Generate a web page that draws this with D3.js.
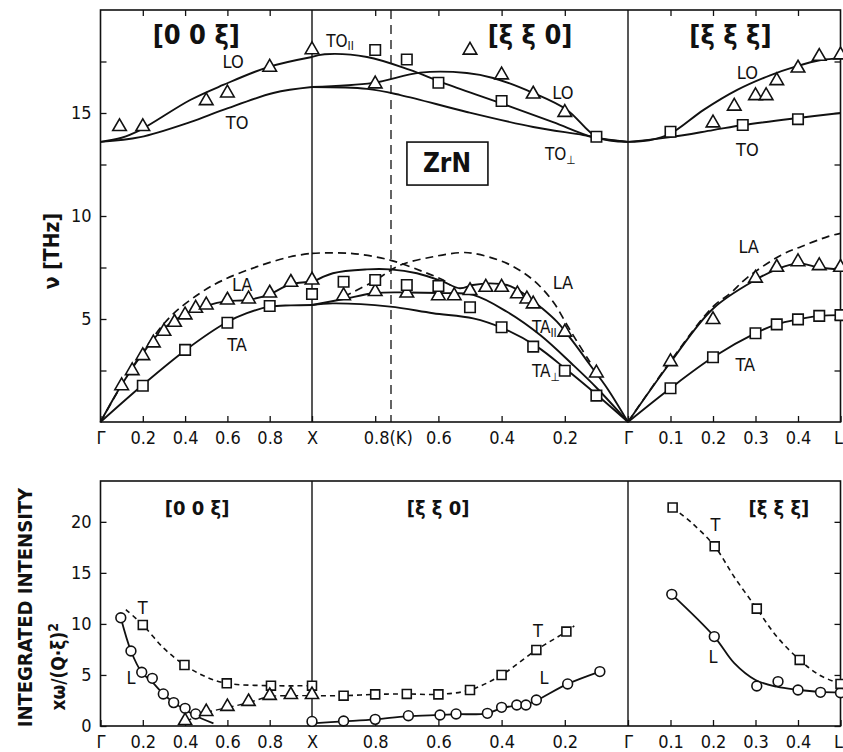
<!DOCTYPE html>
<html>
<head>
<meta charset="utf-8">
<script src="https://cdn.jsdelivr.net/npm/d3@7"></script>
<style>
  body { margin: 0; background: #fff; }
  svg text { fill: #111; }
</style>
</head>
<body>
<div id="chart"></div>
<script>
// ---------- data: phonon dispersion of ZrN, [xi, nu (THz)] ----------
// segment a = [0 0 xi] (Gamma -> X), b = [xi xi 0] (X -> Gamma), c = [xi xi xi] (Gamma -> L)

// optical branches (lines)
const loA = [[0, 13.6], [0.1, 13.8], [0.187, 14.17], [0.424, 15.63], [0.58, 16.36], [0.793, 17.23], [1, 17.72]];
const toA = [[0, 13.6], [0.187, 13.83], [0.424, 14.56], [0.58, 15.15], [0.817, 15.97], [1, 16.26]];
const toParB = [[1, 17.72], [0.96, 17.85], [0.826, 17.72], [0.69, 17.09], [0.585, 16.46], [0.405, 15.49], [0.237, 14.56], [0.11, 13.83], [0, 13.6]];
const loB = [[1, 16.26], [0.807, 16.46], [0.658, 16.96], [0.51, 16.94], [0.427, 16.7], [0.3, 15.97], [0.193, 15.15], [0.098, 13.83], [0, 13.6]];
const toPerpB = [[1, 16.26], [0.826, 16.17], [0.72, 15.87], [0.51, 15.05], [0.3, 14.32], [0.142, 13.93], [0.098, 13.79], [0, 13.6]];
const loC = [[0, 13.6], [0.05, 13.68], [0.1, 14.0], [0.178, 15.15], [0.257, 16.12], [0.336, 16.84], [0.394, 17.25], [0.454, 17.57], [0.5, 17.65]];
const toC = [[0, 13.6], [0.1, 13.83], [0.2, 14.17], [0.272, 14.42], [0.4, 14.76], [0.5, 15.0]];

// acoustic branches (lines)
const laA = [[0, 0], [0.095, 1.72], [0.189, 3.18], [0.284, 4.39], [0.394, 5.2], [0.503, 5.65], [0.597, 5.87], [0.692, 5.92], [0.793, 6.17], [0.897, 6.68], [1, 6.81]];
const taA = [[0, 0], [0.195, 1.76], [0.403, 3.5], [0.593, 4.82], [0.692, 5.28], [0.8, 5.6], [0.9, 5.66], [1, 5.68]];
const laCalcA = [[0, 0], [0.1, 1.8], [0.2, 3.4], [0.33, 5.11], [0.47, 6.25], [0.58, 6.89], [0.74, 7.54], [0.897, 8.02], [1, 8.19]];
const laB = [[1, 6.77], [0.934, 7.22], [0.826, 7.41], [0.753, 7.41], [0.668, 7.22], [0.585, 6.81], [0.532, 6.49], [0.491, 6.65], [0.437, 6.73], [0.383, 6.65], [0.332, 6.25], [0.278, 5.6], [0.225, 4.87], [0.174, 3.9], [0.12, 2.77], [0.066, 1.64], [0, 0]];
const taParB = [[1, 5.68], [0.9, 5.97], [0.8, 6.26], [0.7, 6.29], [0.595, 6.26], [0.49, 6.17], [0.383, 5.35], [0.278, 4.22], [0.174, 2.77], [0.098, 1.64], [0, 0]];
const taPerpB = [[1, 5.68], [0.934, 5.76], [0.753, 5.6], [0.617, 5.28], [0.49, 5.03], [0.396, 4.55], [0.288, 3.66], [0.193, 2.52], [0.098, 1.31], [0, 0]];
const laCalcB1 = [[1, 8.19], [0.88, 8.19], [0.753, 7.86], [0.649, 7.3], [0.585, 6.89], [0.563, 6.65]];
const laCalcB2 = [[0.9, 6.08], [0.807, 6.81], [0.72, 7.62], [0.617, 8.02], [0.532, 8.22], [0.49, 8.19], [0.383, 7.7], [0.3, 6.89], [0.237, 5.84], [0.193, 4.71], [0.161, 3.9], [0.12, 2.9]];
const laC = [[0, 0], [0.1, 2.9], [0.2, 5.5], [0.3, 6.9], [0.35, 7.41], [0.4, 7.7], [0.45, 7.5], [0.5, 7.4]];
const laCalcC = [[0, 0], [0.1, 2.95], [0.2, 5.6], [0.241, 6.25], [0.28, 7.0], [0.36, 8.1], [0.407, 8.51], [0.47, 9.0], [0.5, 9.16]];
const taC = [[0, 0], [0.1, 1.64], [0.2, 3.14], [0.3, 4.31], [0.35, 4.74], [0.4, 4.98], [0.45, 5.15], [0.5, 5.19]];

// measured points
const triA = [[0.09, 14.29], [0.2, 14.29], [0.5, 15.55], [0.6, 15.92], [0.8, 17.17], [1, 18.02],
  [0.1, 1.71], [0.15, 2.44], [0.2, 3.17], [0.25, 3.79], [0.3, 4.35], [0.35, 4.79], [0.4, 5.15], [0.45, 5.47],
  [0.5, 5.63], [0.6, 5.87], [0.7, 5.92], [0.8, 6.21], [0.9, 6.73], [1, 6.84]];
const sqA = [[0.2, 1.76], [0.4, 3.5], [0.6, 4.82], [0.8, 5.63], [1, 6.21]];
const triB = [[0.8, 16.36], [0.5, 18.0], [0.4, 16.8], [0.3, 15.87], [0.2, 14.98],
  [0.9, 6.08], [0.8, 6.28], [0.7, 6.21], [0.6, 6.08], [0.55, 6.08], [0.5, 6.33], [0.45, 6.49], [0.4, 6.49],
  [0.35, 6.17], [0.32, 5.92], [0.3, 5.68], [0.2, 4.31], [0.1, 2.33]];
const sqB = [[0.8, 18.06], [0.7, 17.6], [0.6, 16.47], [0.4, 15.58], [0.1, 13.85],
  [0.9, 6.81], [0.8, 6.89], [0.7, 6.65], [0.6, 6.6], [0.5, 5.57], [0.4, 4.6], [0.3, 3.66], [0.2, 2.49], [0.1, 1.28]];
const triC = [[0.2, 14.47], [0.25, 15.28], [0.3, 15.79], [0.325, 15.79], [0.35, 16.52], [0.4, 17.13], [0.45, 17.7], [0.5, 17.77],
  [0.1, 2.88], [0.2, 4.92], [0.3, 6.93], [0.35, 7.46], [0.4, 7.73], [0.45, 7.54], [0.5, 7.46]];
const sqC = [[0.1, 14.09], [0.27, 14.42], [0.4, 14.7],
  [0.1, 1.64], [0.2, 3.14], [0.3, 4.31], [0.35, 4.74], [0.4, 4.98], [0.45, 5.15], [0.5, 5.19]];

// ---------- data: integrated intensity ----------
const intLA = [[0.096, 10.6], [0.144, 7.35], [0.195, 5.26], [0.245, 4.3], [0.297, 3.14], [0.346, 2.29], [0.4, 1.6], [0.45, 1.0], [0.534, 0.25]];
const intTA = [[0.12, 11.4], [0.2, 9.9], [0.3, 7.6], [0.397, 5.98], [0.5, 4.8], [0.597, 4.18], [0.806, 3.95], [1, 3.95]];
const intMixA = [[0.4, 0.42], [0.5, 1.31], [0.6, 1.8], [0.7, 2.29], [0.8, 2.88], [0.9, 2.97], [1, 2.97]];
const circA = [[0.096, 10.6], [0.144, 7.35], [0.195, 5.26], [0.245, 4.67], [0.297, 3.14], [0.346, 2.29], [0.4, 1.73], [0.45, 1.18], [1, 0.45]];
const boxA = [[0.2, 9.9], [0.397, 5.98], [0.597, 4.18], [0.806, 3.95], [1, 3.95]];
const deltaA = [[0.4, 0.42], [0.5, 1.31], [0.6, 1.8], [0.7, 2.29], [0.8, 2.88], [0.9, 2.97], [1, 2.97]];

const intLB = [[1, 0.26], [0.9, 0.45], [0.8, 0.65], [0.7, 0.95], [0.6, 1.08], [0.544, 1.15], [0.445, 1.24], [0.4, 1.75], [0.352, 2.0], [0.323, 2.1], [0.29, 2.5], [0.191, 4.12], [0.089, 5.33]];
const intTB = [[1, 2.97], [0.9, 2.97], [0.8, 3.1], [0.7, 3.14], [0.6, 3.1], [0.5, 3.53], [0.4, 5.0], [0.29, 7.45], [0.195, 9.25], [0.17, 9.8]];
const circB = [[0.9, 0.49], [0.8, 0.65], [0.695, 1.01], [0.595, 1.08], [0.544, 1.18], [0.445, 1.24], [0.4, 1.83], [0.352, 2.06], [0.323, 2.06], [0.29, 2.55], [0.191, 4.12], [0.089, 5.33]];
const boxB = [[0.9, 2.97], [0.8, 3.1], [0.7, 3.14], [0.6, 3.1], [0.5, 3.53], [0.4, 5.0], [0.29, 7.45], [0.195, 9.25]];

const intTC = [[0.105, 21.4], [0.15, 19.9], [0.204, 17.6], [0.25, 14.6], [0.303, 11.5], [0.35, 8.76], [0.404, 6.47], [0.45, 5.0], [0.5, 4.12]];
const intLC = [[0.103, 12.9], [0.203, 8.76], [0.25, 6.15], [0.3, 4.5], [0.35, 3.85], [0.4, 3.55], [0.45, 3.35], [0.5, 3.3]];
const boxC = [[0.105, 21.4], [0.204, 17.6], [0.303, 11.5], [0.404, 6.47], [0.5, 4.12]];
const circC = [[0.103, 12.9], [0.203, 8.76], [0.303, 3.92], [0.353, 4.35], [0.4, 3.53], [0.453, 3.3], [0.5, 3.26]];

// ---------- ticks ----------
const ticksA = [0, 0.2, 0.4, 0.6, 0.8, 1];
const tickLabelsA = ["Γ", "0.2", "0.4", "0.6", "0.8", "X"];
const ticksB = [0.8, 0.6, 0.4, 0.2, 0];
const tickLabelsBTop = ["0.8(K)", "0.6", "0.4", "0.2", "Γ"];
const tickLabelsBBot = ["0.8", "0.6", "0.4", "0.2", "Γ"];
const ticksC = [0.1, 0.2, 0.3, 0.4, 0.5];
const tickLabelsC = ["0.1", "0.2", "0.3", "0.4", "L"];
const nuTicks = [2.5, 5, 7.5, 10, 12.5, 15, 17.5];
const nuLabels = [5, 10, 15];
const intTicks = [0, 5, 10, 15, 20];

// ---------- layout ----------
const W = 843, H = 752;
const FONT = '"Liberation Sans Narrow", "DejaVu Sans Condensed", "Liberation Sans", sans-serif';

const svg = d3.select("#chart").append("svg").attr("width", W).attr("height", H);

const xs = {
  a: d3.scaleLinear().domain([0, 1]).range([100.5, 312]),
  b: d3.scaleLinear().domain([1, 0]).range([312, 628]),
  c: d3.scaleLinear().domain([0, 0.5]).range([628, 840.5]),
};
const yTop = d3.scaleLinear().domain([0, 20]).range([422, 10]);
const yBot = d3.scaleLinear().domain([0, 24]).range([726, 481]);

const left = xs.a.range()[0], right = xs.c.range()[1];

function frame(y) {
  const g = svg.append("g");
  g.append("rect")
    .attr("x", left).attr("y", y.range()[1])
    .attr("width", right - left).attr("height", y.range()[0] - y.range()[1])
    .attr("fill", "none").attr("stroke", "#111").attr("stroke-width", 1.6);
  // vertical lines at X and Gamma
  [xs.a(1), xs.b(0)].forEach(x => {
    g.append("line").attr("x1", x).attr("x2", x)
      .attr("y1", y.range()[1]).attr("y2", y.range()[0])
      .attr("stroke", "#111").attr("stroke-width", 1.4);
  });
  return g;
}

function styleAxis(g, size) {
  g.select(".domain").remove();
  g.attr("font-family", FONT).attr("font-size", size);
  g.selectAll("line").attr("stroke", "#111").attr("stroke-width", 1.3);
  g.selectAll("text").attr("fill", "#111");
}

function xAxes(y, labelsB, withTop) {
  const base = y.range()[0];
  const segs = [["a", ticksA, tickLabelsA], ["b", ticksB, labelsB], ["c", ticksC, tickLabelsC]];
  segs.forEach(([s, t, lab]) => {
    const g = svg.append("g").attr("transform", `translate(0,${base})`)
      .call(d3.axisBottom(xs[s]).tickValues(t).tickSize(-6).tickPadding(9)
        .tickFormat((d, i) => lab[i]));
    styleAxis(g, 18);
    // "0.8(K)" is anchored so that "0.8" sits under the tick
    g.selectAll("text").filter(d => s === "b" && d === 0.8 && labelsB[0].length > 3)
      .attr("text-anchor", "start").attr("dx", -12);
    // "L" sits at the right edge of the frame
    g.selectAll("text").filter(d => s === "c" && d === 0.5)
      .attr("text-anchor", "end").attr("dx", 2);
    if (withTop) {
      const gt = svg.append("g").attr("transform", `translate(0,${y.range()[1]})`)
        .call(d3.axisTop(xs[s]).tickValues(t.filter(v => v !== 0 && v !== 1 && v !== 0.5))
          .tickSize(-6).tickFormat(""));
      styleAxis(gt, 18);
    }
  });
}

function yAxes(y, ticks, labelled) {
  const gl = svg.append("g").attr("transform", `translate(${left},0)`)
    .call(d3.axisLeft(y).tickValues(ticks).tickSize(-6).tickPadding(9)
      .tickFormat(d => labelled.includes(d) ? d : ""));
  styleAxis(gl, 18);
  const gr = svg.append("g").attr("transform", `translate(${right},0)`)
    .call(d3.axisRight(y).tickValues(ticks).tickSize(-6).tickFormat(""));
  styleAxis(gr, 18);
}

const line = (s, y) => d3.line()
  .x(d => xs[s](d[0])).y(d => y(d[1]))
  .curve(d3.curveCatmullRom.alpha(0.5));

function curve(s, pts, y, dash, w) {
  svg.append("path").datum(pts)
    .attr("d", line(s, y))
    .attr("fill", "none").attr("stroke", "#111")
    .attr("stroke-width", w || 1.9)
    .attr("stroke-dasharray", dash || null);
}

const symbols = { tri: d3.symbolTriangle, sq: d3.symbolSquare, circ: d3.symbolCircle };
function marks(s, pts, y, kind, size) {
  svg.append("g").selectAll("path").data(pts).join("path")
    .attr("transform", d => `translate(${xs[s](d[0])},${y(d[1]) + (kind === "tri" ? -1 : 0)})`)
    .attr("d", d3.symbol().type(symbols[kind]).size(size))
    .attr("fill", "#fff").attr("stroke", "#111").attr("stroke-width", 1.6);
}

function label(s, xi, v, y, txt, sub, size, anchor, weight) {
  const t = svg.append("text")
    .attr("x", xs[s](xi)).attr("y", y(v)).attr("dy", "0.35em")
    .attr("font-family", FONT).attr("font-size", size)
    .attr("font-weight", weight || "normal")
    .attr("text-anchor", anchor || "middle").text(txt);
  if (sub) t.append("tspan").attr("font-size", size * 0.7).attr("dy", "0.3em").text(sub);
  return t;
}

// ================= TOP PANEL: dispersion =================
frame(yTop);
// K point dashed line
svg.append("line")
  .attr("x1", xs.b(0.75)).attr("x2", xs.b(0.75))
  .attr("y1", yTop.range()[1]).attr("y2", yTop.range()[0])
  .attr("stroke", "#111").attr("stroke-width", 1.3).attr("stroke-dasharray", "9,6");
xAxes(yTop, tickLabelsBTop, true);
yAxes(yTop, nuTicks, nuLabels);

// curves
curve("a", loA, yTop); curve("a", toA, yTop);
curve("b", toParB, yTop); curve("b", loB, yTop); curve("b", toPerpB, yTop);
curve("c", loC, yTop); curve("c", toC, yTop);
curve("a", laA, yTop); curve("a", taA, yTop);
curve("b", laB, yTop); curve("b", taParB, yTop); curve("b", taPerpB, yTop);
curve("c", laC, yTop); curve("c", taC, yTop);
const DASH = "8,5";
curve("a", laCalcA, yTop, DASH, 1.7);
curve("b", laCalcB1, yTop, DASH, 1.7);
curve("b", laCalcB2, yTop, DASH, 1.7);
curve("c", laCalcC, yTop, DASH, 1.7);

// points
marks("a", triA, yTop, "tri", 80); marks("a", sqA, yTop, "sq", 110);
marks("b", triB, yTop, "tri", 80); marks("b", sqB, yTop, "sq", 110);
marks("c", triC, yTop, "tri", 80); marks("c", sqC, yTop, "sq", 110);

// branch labels
label("a", 0.627, 17.48, yTop, "LO", null, 18);
label("a", 0.646, 14.51, yTop, "TO", null, 18);
label("b", 0.955, 18.5, yTop, "TO", "II", 17, "start");
label("b", 0.206, 15.97, yTop, "LO", null, 18);
label("b", 0.263, 13.0, yTop, "TO", "⊥", 17, "start");
label("c", 0.281, 16.94, yTop, "LO", null, 18);
label("c", 0.281, 13.2, yTop, "TO", null, 18);
label("a", 0.67, 6.65, yTop, "LA", null, 18);
label("a", 0.646, 3.74, yTop, "TA", null, 18);
label("b", 0.206, 6.75, yTop, "LA", null, 18);
label("b", 0.304, 4.61, yTop, "TA", "II", 17, "start");
label("b", 0.304, 2.45, yTop, "TA", "⊥", 17, "start");
label("c", 0.284, 8.5, yTop, "LA", null, 18);
label("c", 0.276, 2.77, yTop, "TA", null, 18);

// direction titles
label("a", 0.453, 18.79, yTop, "[0 0 ξ]", null, 27, "middle", "bold");
label("b", 0.31, 18.79, yTop, "[ξ ξ 0]", null, 27, "middle", "bold");
label("c", 0.241, 18.79, yTop, "[ξ ξ ξ]", null, 27, "middle", "bold");

// ZrN box
const zx = xs.b(0.573), zy = yTop(12.57);
svg.append("rect").attr("x", zx - 40).attr("y", zy - 21).attr("width", 81).attr("height", 43)
  .attr("fill", "#fff").attr("stroke", "#111").attr("stroke-width", 1.6);
label("b", 0.573, 12.57, yTop, "ZrN", null, 26, "middle", "bold");

// y title
svg.append("text")
  .attr("transform", `translate(52,${yTop(8.3)}) rotate(-90)`)
  .attr("dy", "0.35em").attr("text-anchor", "middle")
  .attr("font-family", FONT).attr("font-size", 21).attr("font-weight", "bold")
  .text("ν [THz]");

// ================= BOTTOM PANEL: integrated intensity =================
frame(yBot);
xAxes(yBot, tickLabelsBBot, false);
yAxes(yBot, intTicks, intTicks);

curve("a", intLA, yBot, null, 1.8);
curve("a", intTA, yBot, "5,4", 1.6);
curve("a", intMixA, yBot, "7,4", 1.4);
curve("b", intLB, yBot, null, 1.8);
curve("b", intTB, yBot, "5,4", 1.6);
curve("c", intLC, yBot, null, 1.8);
curve("c", intTC, yBot, "5,4", 1.6);

marks("a", circA, yBot, "circ", 75); marks("a", boxA, yBot, "sq", 80); marks("a", deltaA, yBot, "tri", 75);
marks("b", circB, yBot, "circ", 75); marks("b", boxB, yBot, "sq", 80);
marks("c", circC, yBot, "circ", 75); marks("c", boxC, yBot, "sq", 80);

label("a", 0.2, 11.6, yBot, "T", null, 18);
label("a", 0.144, 4.7, yBot, "L", null, 18);
label("b", 0.285, 9.3, yBot, "T", null, 18);
label("b", 0.266, 4.7, yBot, "L", null, 18);
label("c", 0.206, 19.7, yBot, "T", null, 18);
label("c", 0.2, 6.76, yBot, "L", null, 18);

label("a", 0.457, 21.4, yBot, "[0 0 ξ]", null, 20, "middle", "bold");
label("b", 0.601, 21.4, yBot, "[ξ ξ 0]", null, 20, "middle", "bold");
label("c", 0.355, 21.4, yBot, "[ξ ξ ξ]", null, 20, "middle", "bold");

svg.append("text")
  .attr("transform", `translate(25,${yBot(11.6)}) rotate(-90)`)
  .attr("dy", "0.35em").attr("text-anchor", "middle")
  .attr("font-family", FONT).attr("font-size", 20).attr("font-weight", "bold")
  .text("INTEGRATED INTENSITY");
const t2 = svg.append("text")
  .attr("transform", `translate(58,${yBot(5.8)}) rotate(-90)`)
  .attr("dy", "0.35em").attr("text-anchor", "middle")
  .attr("font-family", FONT).attr("font-size", 19).attr("font-weight", "bold")
  .text("xω/(Q·ξ)");
t2.append("tspan").attr("dy", "-0.5em").attr("font-size", 14).text("2");
</script>
</body>
</html>
